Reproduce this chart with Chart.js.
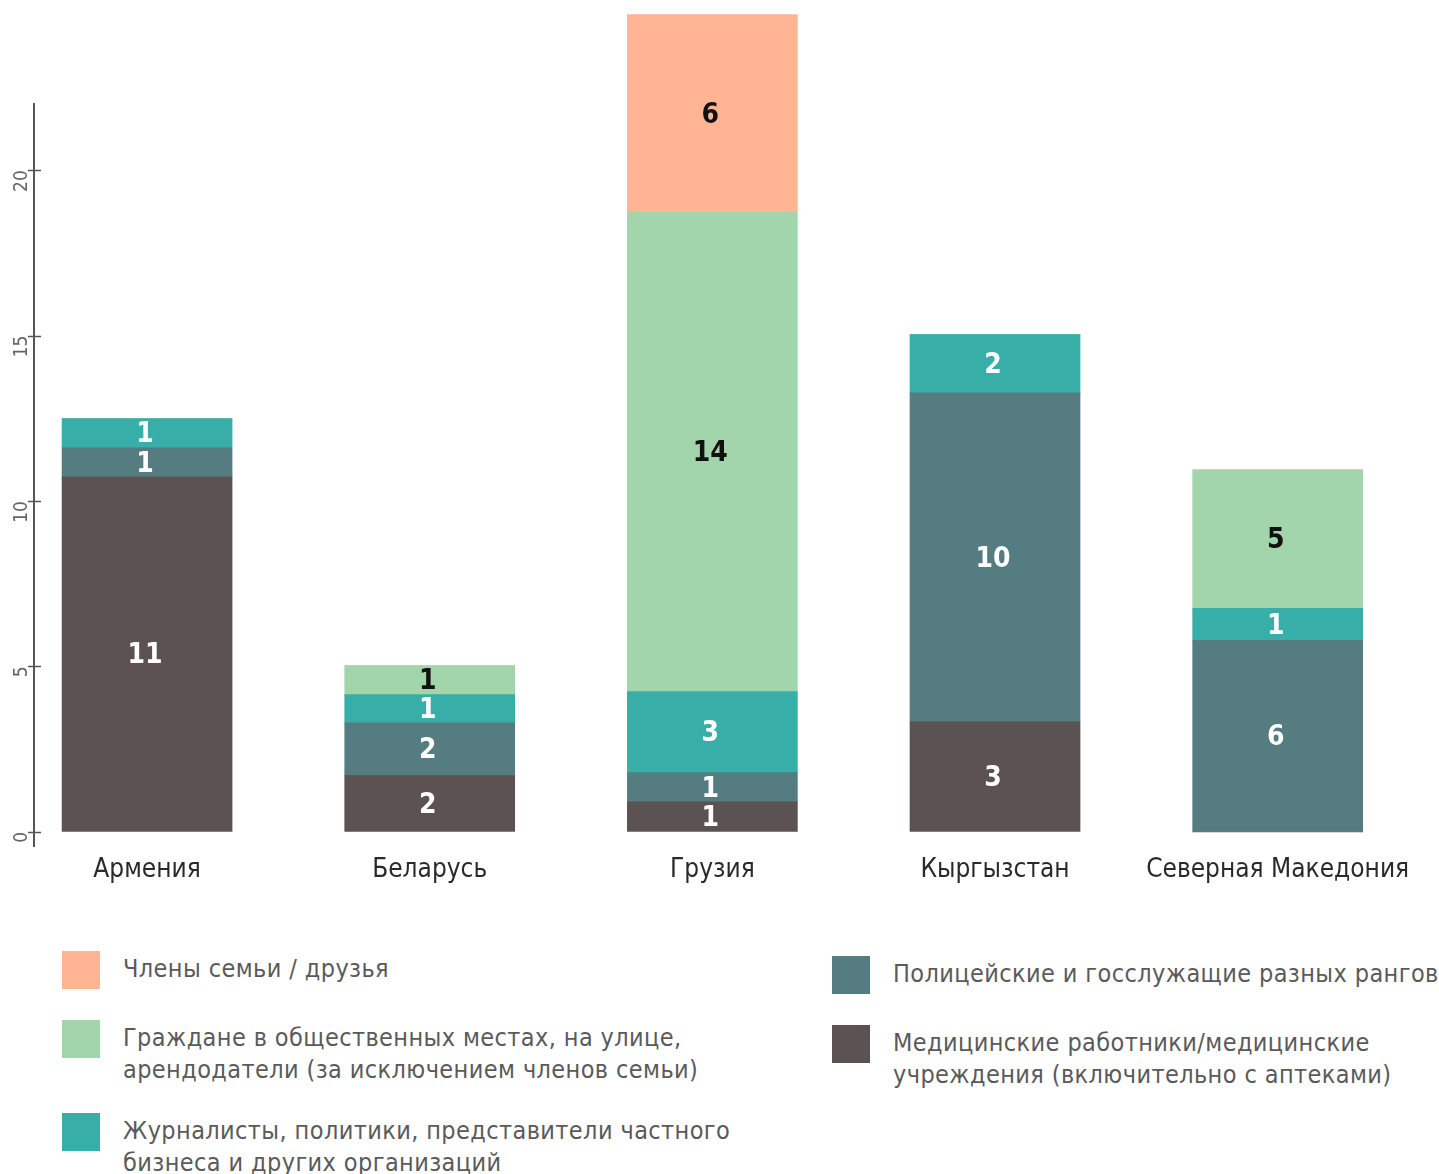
<!DOCTYPE html>
<html>
<head>
<meta charset="utf-8">
<script src="https://cdn.jsdelivr.net/npm/chart.js@4/dist/chart.umd.min.js"></script>
<style>
  body { margin: 0; background: #fff; overflow: hidden; }
  #wrap { position: relative; width: 1439px; height: 1174px; }
  #chart-box { position: absolute; left: 0; top: 0; width: 1439px; height: 900px; }
  .legend-item { position: absolute; display: flex; align-items: flex-start; }
  .legend-item .swatch { width: 38px; height: 38px; flex: none; margin-right: 23px; }
  .legend-item .text {
    font-family: "DejaVu Sans Condensed", sans-serif;
    font-size: 25px; line-height: 32px; color: #5a5a5a; white-space: pre;
    margin-top: 2px; letter-spacing: 0.4px;
  }
</style>
</head>
<body>
<div id="wrap">
  <div id="chart-box"><canvas id="chart-violence"></canvas></div>
  <div id="legend"></div>
</div>
<script>
// categories and stacked series (bottom to top)
var categories = ['Армения', 'Беларусь', 'Грузия', 'Кыргызстан', 'Северная Македония'];

var seriesNames = [
  'Медицинские работники/медицинские\nучреждения (включительно с аптеками)',
  'Полицейские и госслужащие разных рангов',
  'Журналисты, политики, представители частного\nбизнеса и других организаций',
  'Граждане в общественных местах, на улице,\nарендодатели (за исключением членов семьи)',
  'Члены семьи / друзья'
];
var seriesColors = ['#5b5251', '#557c81', '#38aea8', '#a3d5ac', '#ffb494'];
var labelColors = ['#ffffff', '#ffffff', '#ffffff', '#111111', '#111111'];

// drawn heights of each segment
var medicalHeights = [10.73, 1.70, 0.91, 3.33, 0];
var policeHeights = [0.88, 1.60, 0.88, 9.94, 5.79];
var journalistHeights = [0.88, 0.85, 2.45, 1.76, 0.97];
var citizenHeights = [0, 0.88, 14.49, 0, 4.18];
var familyHeights = [0, 0, 5.97, 0, 0];

// numbers printed on the segments
var medicalLabels = ['11', '2', '1', '3', ''];
var policeLabels = ['1', '2', '1', '10', '6'];
var journalistLabels = ['1', '1', '3', '2', '1'];
var citizenLabels = ['', '1', '14', '', '5'];
var familyLabels = ['', '', '6', '', ''];

var yTicks = [0, 5, 10, 15, 20];

var allHeights = [medicalHeights, policeHeights, journalistHeights, citizenHeights, familyHeights];
var allLabels = [medicalLabels, policeLabels, journalistLabels, citizenLabels, familyLabels];

// legend layout: [series index, left, top]
var legendSpots = [[4, 62, 951], [3, 62, 1020], [2, 62, 1113], [1, 832, 956], [0, 832, 1025]];

var narrow = '"DejaVu Sans Condensed", sans-serif';

var segmentLabels = {
  id: 'segmentLabels',
  afterDatasetsDraw: function(chart) {
    var ctx = chart.ctx;
    ctx.save();
    ctx.font = 'bold 28px ' + narrow;
    ctx.textAlign = 'center';
    ctx.textBaseline = 'middle';
    chart.data.datasets.forEach(function(ds, d) {
      var meta = chart.getDatasetMeta(d);
      meta.data.forEach(function(bar, i) {
        var txt = allLabels[d][i];
        if (!txt) return;
        var p = bar.getProps(['x', 'y', 'base'], true);
        ctx.fillStyle = labelColors[d];
        ctx.fillText(txt, p.x - 2, (p.y + p.base) / 2 + 2);
      });
    });
    ctx.restore();
  }
};

// tick marks that cross the y axis line
var crossTicks = {
  id: 'crossTicks',
  afterDraw: function(chart) {
    var ys = chart.scales.y;
    var ctx = chart.ctx;
    var ax = ys.right;
    ctx.save();
    ctx.strokeStyle = '#555';
    ctx.lineWidth = 1.5;
    ys.ticks.forEach(function(t) {
      var py = Math.round(ys.getPixelForValue(t.value)) + 0.5;
      ctx.beginPath();
      ctx.moveTo(ax - 6, py);
      ctx.lineTo(ax + 7, py);
      ctx.stroke();
    });
    ctx.restore();
  }
};

function buildDatasets() {
  return allHeights.map(function(h, d) {
    return {
      label: seriesNames[d].replace('\n', ' '),
      data: h.map(function(v, i) { return {x: i, y: v}; }),
      backgroundColor: seriesColors[d],
      borderWidth: 0,
      barThickness: 170,
      clip: false
    };
  });
}

new Chart(document.getElementById('chart-violence'), {
  type: 'bar',
  data: { datasets: buildDatasets() },
  plugins: [segmentLabels, crossTicks],
  options: {
    responsive: true,
    maintainAspectRatio: false,
    animation: false,
    layout: { padding: { left: 0, right: 20, top: 104, bottom: 14 } },
    plugins: { legend: { display: false }, tooltip: { enabled: false } },
    scales: {
      x: {
        type: 'linear',
        stacked: true,
        offset: false,
        min: -0.4,
        max: 4.5,
        afterBuildTicks: function(scale) {
          scale.ticks = categories.map(function(c, i) { return {value: i}; });
        },
        ticks: {
          autoSkip: false,
          maxRotation: 0,
          padding: 0,
          color: '#2a2a2a',
          font: { family: narrow, size: 26 },
          callback: function(v) { return categories[v]; }
        },
        grid: { display: false },
        border: { display: false }
      },
      y: {
        stacked: true,
        min: -0.45,
        max: 22.0,
        afterFit: function(scale) { scale.width = 34; },
        afterBuildTicks: function(scale) {
          scale.ticks = yTicks.map(function(v) { return {value: v}; });
        },
        ticks: {
          minRotation: 90,
          maxRotation: 90,
          padding: 12,
          color: '#666',
          font: { family: narrow, size: 19 }
        },
        grid: { drawOnChartArea: false, drawTicks: false },
        border: { color: '#555', width: 2 }
      }
    }
  }
});

// html legend built from the series arrays
var legendBox = document.getElementById('legend');
legendSpots.forEach(function(spot) {
  var item = document.createElement('div');
  item.className = 'legend-item';
  item.style.left = spot[1] + 'px';
  item.style.top = spot[2] + 'px';
  var sw = document.createElement('div');
  sw.className = 'swatch';
  sw.style.background = seriesColors[spot[0]];
  var tx = document.createElement('div');
  tx.className = 'text';
  tx.textContent = seriesNames[spot[0]];
  item.appendChild(sw);
  item.appendChild(tx);
  legendBox.appendChild(item);
});
</script>
</body>
</html>
